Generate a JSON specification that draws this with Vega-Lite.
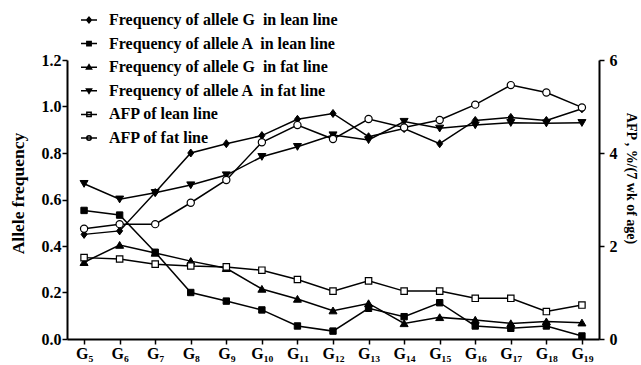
{
  "$schema": "https://vega.github.io/schema/vega-lite/v6.json",
  "width": 532,
  "height": 279,
  "autosize": {"type": "none"},
  "padding": {"left": 67, "top": 60, "right": 42, "bottom": 26},
  "background": "white",
  "config": {
    "view": {"stroke": null},
    "font": "Liberation Serif",
    "axis": {
      "grid": false,
      "domainColor": "black",
      "domainWidth": 2,
      "tickColor": "black",
      "tickWidth": 1.5,
      "tickSize": 5,
      "labelFont": "Liberation Serif",
      "labelFontWeight": "bold",
      "labelFontSize": 16,
      "labelColor": "black",
      "labelFlush": false,
      "titleFont": "Liberation Serif",
      "titleFontWeight": "bold",
      "titleColor": "black"
    },
    "legend": {
      "orient": "none",
      "legendX": 13,
      "legendY": -49,
      "padding": 0,
      "title": null,
      "labelFont": "Liberation Serif",
      "labelFontWeight": "bold",
      "labelFontSize": 16,
      "labelColor": "black",
      "labelLimit": 500,
      "symbolSize": 256,
      "symbolStrokeWidth": 1.5,
      "symbolStrokeColor": "black",
      "rowPadding": 6.6,
      "labelOffset": 11
    }
  },
  "datasets": {
    "main": [
      {"series": "Frequency of allele G  in lean line", "kind": "allele", "gen": 5, "value": 0.45},
      {"series": "Frequency of allele G  in lean line", "kind": "allele", "gen": 6, "value": 0.465},
      {"series": "Frequency of allele G  in lean line", "kind": "allele", "gen": 7, "value": 0.63},
      {"series": "Frequency of allele G  in lean line", "kind": "allele", "gen": 8, "value": 0.8},
      {"series": "Frequency of allele G  in lean line", "kind": "allele", "gen": 9, "value": 0.84},
      {"series": "Frequency of allele G  in lean line", "kind": "allele", "gen": 10, "value": 0.875},
      {"series": "Frequency of allele G  in lean line", "kind": "allele", "gen": 11, "value": 0.945},
      {"series": "Frequency of allele G  in lean line", "kind": "allele", "gen": 12, "value": 0.97},
      {"series": "Frequency of allele G  in lean line", "kind": "allele", "gen": 13, "value": 0.87},
      {"series": "Frequency of allele G  in lean line", "kind": "allele", "gen": 14, "value": 0.905},
      {"series": "Frequency of allele G  in lean line", "kind": "allele", "gen": 15, "value": 0.84},
      {"series": "Frequency of allele G  in lean line", "kind": "allele", "gen": 16, "value": 0.94},
      {"series": "Frequency of allele G  in lean line", "kind": "allele", "gen": 17, "value": 0.953},
      {"series": "Frequency of allele G  in lean line", "kind": "allele", "gen": 18, "value": 0.94},
      {"series": "Frequency of allele G  in lean line", "kind": "allele", "gen": 19, "value": 0.99},
      {"series": "Frequency of allele A  in lean line", "kind": "allele", "gen": 5, "value": 0.553},
      {"series": "Frequency of allele A  in lean line", "kind": "allele", "gen": 6, "value": 0.533},
      {"series": "Frequency of allele A  in lean line", "kind": "allele", "gen": 7, "value": 0.373},
      {"series": "Frequency of allele A  in lean line", "kind": "allele", "gen": 8, "value": 0.2},
      {"series": "Frequency of allele A  in lean line", "kind": "allele", "gen": 9, "value": 0.163},
      {"series": "Frequency of allele A  in lean line", "kind": "allele", "gen": 10, "value": 0.125},
      {"series": "Frequency of allele A  in lean line", "kind": "allele", "gen": 11, "value": 0.056},
      {"series": "Frequency of allele A  in lean line", "kind": "allele", "gen": 12, "value": 0.034},
      {"series": "Frequency of allele A  in lean line", "kind": "allele", "gen": 13, "value": 0.132},
      {"series": "Frequency of allele A  in lean line", "kind": "allele", "gen": 14, "value": 0.096},
      {"series": "Frequency of allele A  in lean line", "kind": "allele", "gen": 15, "value": 0.156},
      {"series": "Frequency of allele A  in lean line", "kind": "allele", "gen": 16, "value": 0.056},
      {"series": "Frequency of allele A  in lean line", "kind": "allele", "gen": 17, "value": 0.046},
      {"series": "Frequency of allele A  in lean line", "kind": "allele", "gen": 18, "value": 0.056},
      {"series": "Frequency of allele A  in lean line", "kind": "allele", "gen": 19, "value": 0.013},
      {"series": "Frequency of allele G  in fat line", "kind": "allele", "gen": 5, "value": 0.33},
      {"series": "Frequency of allele G  in fat line", "kind": "allele", "gen": 6, "value": 0.404},
      {"series": "Frequency of allele G  in fat line", "kind": "allele", "gen": 7, "value": 0.37},
      {"series": "Frequency of allele G  in fat line", "kind": "allele", "gen": 8, "value": 0.335},
      {"series": "Frequency of allele G  in fat line", "kind": "allele", "gen": 9, "value": 0.304},
      {"series": "Frequency of allele G  in fat line", "kind": "allele", "gen": 10, "value": 0.215},
      {"series": "Frequency of allele G  in fat line", "kind": "allele", "gen": 11, "value": 0.172},
      {"series": "Frequency of allele G  in fat line", "kind": "allele", "gen": 12, "value": 0.122},
      {"series": "Frequency of allele G  in fat line", "kind": "allele", "gen": 13, "value": 0.153},
      {"series": "Frequency of allele G  in fat line", "kind": "allele", "gen": 14, "value": 0.067},
      {"series": "Frequency of allele G  in fat line", "kind": "allele", "gen": 15, "value": 0.093},
      {"series": "Frequency of allele G  in fat line", "kind": "allele", "gen": 16, "value": 0.082},
      {"series": "Frequency of allele G  in fat line", "kind": "allele", "gen": 17, "value": 0.067},
      {"series": "Frequency of allele G  in fat line", "kind": "allele", "gen": 18, "value": 0.075},
      {"series": "Frequency of allele G  in fat line", "kind": "allele", "gen": 19, "value": 0.07},
      {"series": "Frequency of allele A  in fat line", "kind": "allele", "gen": 5, "value": 0.668},
      {"series": "Frequency of allele A  in fat line", "kind": "allele", "gen": 6, "value": 0.601},
      {"series": "Frequency of allele A  in fat line", "kind": "allele", "gen": 7, "value": 0.629},
      {"series": "Frequency of allele A  in fat line", "kind": "allele", "gen": 8, "value": 0.662},
      {"series": "Frequency of allele A  in fat line", "kind": "allele", "gen": 9, "value": 0.705},
      {"series": "Frequency of allele A  in fat line", "kind": "allele", "gen": 10, "value": 0.784},
      {"series": "Frequency of allele A  in fat line", "kind": "allele", "gen": 11, "value": 0.827},
      {"series": "Frequency of allele A  in fat line", "kind": "allele", "gen": 12, "value": 0.877},
      {"series": "Frequency of allele A  in fat line", "kind": "allele", "gen": 13, "value": 0.856},
      {"series": "Frequency of allele A  in fat line", "kind": "allele", "gen": 14, "value": 0.935},
      {"series": "Frequency of allele A  in fat line", "kind": "allele", "gen": 15, "value": 0.906},
      {"series": "Frequency of allele A  in fat line", "kind": "allele", "gen": 16, "value": 0.92},
      {"series": "Frequency of allele A  in fat line", "kind": "allele", "gen": 17, "value": 0.93},
      {"series": "Frequency of allele A  in fat line", "kind": "allele", "gen": 18, "value": 0.928},
      {"series": "Frequency of allele A  in fat line", "kind": "allele", "gen": 19, "value": 0.93},
      {"series": "AFP of lean line", "kind": "afp", "gen": 5, "value": 1.75},
      {"series": "AFP of lean line", "kind": "afp", "gen": 6, "value": 1.72},
      {"series": "AFP of lean line", "kind": "afp", "gen": 7, "value": 1.61},
      {"series": "AFP of lean line", "kind": "afp", "gen": 8, "value": 1.57},
      {"series": "AFP of lean line", "kind": "afp", "gen": 9, "value": 1.55},
      {"series": "AFP of lean line", "kind": "afp", "gen": 10, "value": 1.48},
      {"series": "AFP of lean line", "kind": "afp", "gen": 11, "value": 1.28},
      {"series": "AFP of lean line", "kind": "afp", "gen": 12, "value": 1.03},
      {"series": "AFP of lean line", "kind": "afp", "gen": 13, "value": 1.25},
      {"series": "AFP of lean line", "kind": "afp", "gen": 14, "value": 1.03},
      {"series": "AFP of lean line", "kind": "afp", "gen": 15, "value": 1.03},
      {"series": "AFP of lean line", "kind": "afp", "gen": 16, "value": 0.875},
      {"series": "AFP of lean line", "kind": "afp", "gen": 17, "value": 0.875},
      {"series": "AFP of lean line", "kind": "afp", "gen": 18, "value": 0.59},
      {"series": "AFP of lean line", "kind": "afp", "gen": 19, "value": 0.73},
      {"series": "AFP of fat line", "kind": "afp", "gen": 5, "value": 2.37},
      {"series": "AFP of fat line", "kind": "afp", "gen": 6, "value": 2.47},
      {"series": "AFP of fat line", "kind": "afp", "gen": 7, "value": 2.47},
      {"series": "AFP of fat line", "kind": "afp", "gen": 8, "value": 2.93},
      {"series": "AFP of fat line", "kind": "afp", "gen": 9, "value": 3.42},
      {"series": "AFP of fat line", "kind": "afp", "gen": 10, "value": 4.23},
      {"series": "AFP of fat line", "kind": "afp", "gen": 11, "value": 4.6},
      {"series": "AFP of fat line", "kind": "afp", "gen": 12, "value": 4.3},
      {"series": "AFP of fat line", "kind": "afp", "gen": 13, "value": 4.73},
      {"series": "AFP of fat line", "kind": "afp", "gen": 14, "value": 4.55},
      {"series": "AFP of fat line", "kind": "afp", "gen": 15, "value": 4.71},
      {"series": "AFP of fat line", "kind": "afp", "gen": 16, "value": 5.04},
      {"series": "AFP of fat line", "kind": "afp", "gen": 17, "value": 5.46},
      {"series": "AFP of fat line", "kind": "afp", "gen": 18, "value": 5.3},
      {"series": "AFP of fat line", "kind": "afp", "gen": 19, "value": 4.98}
    ],
    "legendrows": [
      {"series": "Frequency of allele G  in lean line", "gen": 5, "value": -1},
      {"series": "Frequency of allele A  in lean line", "gen": 5, "value": -1},
      {"series": "Frequency of allele G  in fat line", "gen": 5, "value": -1},
      {"series": "Frequency of allele A  in fat line", "gen": 5, "value": -1},
      {"series": "AFP of lean line", "gen": 5, "value": -1},
      {"series": "AFP of fat line", "gen": 5, "value": -1}
    ]
  },
  "encoding": {
    "x": {
      "field": "gen",
      "type": "quantitative",
      "scale": {"domain": [4.52, 19.48], "nice": false, "zero": false},
      "axis": {
        "title": null,
        "values": [5, 6, 7, 8, 9, 10, 11, 12, 13, 14, 15, 16, 17, 18, 19],
        "labelExpr": "'G' + (datum.value >= 10 ? '₁' : '') + ['₀','₁','₂','₃','₄','₅','₆','₇','₈','₉'][datum.value % 10]",
        "labelPadding": 1
      }
    }
  },
  "layer": [
    {
      "layer": [
        {
          "data": {"name": "main"},
          "transform": [{"filter": "datum.kind === 'allele'"}],
          "mark": {"type": "line", "color": "black", "strokeWidth": 1.5},
          "encoding": {
            "y": {
              "field": "value",
              "type": "quantitative",
              "scale": {"domain": [0, 1.2], "nice": false},
              "axis": {
                "title": "Allele frequency",
                "values": [0, 0.2, 0.4, 0.6, 0.8, 1.0, 1.2],
                "format": ".1f",
                "titleFontSize": 17.5,
                "titlePadding": 14,
                "labelPadding": 1,
                "titleY": 133
              }
            },
            "detail": {"field": "series"}
          }
        },
        {
          "data": {"name": "main"},
          "transform": [{"filter": "datum.kind === 'allele'"}],
          "mark": {"type": "point", "filled": true, "stroke": "black", "strokeWidth": 1, "size": 64, "opacity": 1},
          "encoding": {
            "y": {"field": "value", "type": "quantitative"},
            "shape": {
              "field": "series",
              "type": "nominal",
              "legend": null,
              "scale": {
                "domain": ["Frequency of allele G  in lean line", "Frequency of allele A  in lean line", "Frequency of allele G  in fat line", "Frequency of allele A  in fat line"],
                "range": ["M0,-1L0.75,0L0,1L-0.75,0Z", "M-0.8,-0.8H0.8V0.8H-0.8Z", "M0,-0.9L1,0.8H-1Z", "M0,0.9L1,-0.8H-1Z"]
              }
            },
            "fill": {"value": "black"}
          }
        },
        {
          "data": {"name": "legendrows"},
          "mark": {"type": "point", "filled": true, "strokeWidth": 1.5, "clip": true, "opacity": 1},
          "encoding": {
            "y": {"field": "value", "type": "quantitative"},
            "shape": {
              "field": "series",
              "type": "nominal",
              "legend": {"labelExpr": "replace(datum.label, '  ', ' \u00a0')"},
              "scale": {
                "domain": ["Frequency of allele G  in lean line", "Frequency of allele A  in lean line", "Frequency of allele G  in fat line", "Frequency of allele A  in fat line", "AFP of lean line", "AFP of fat line"],
                "range": [
                  "M-1,0H1M0,-0.36L0.29,0L0,0.36L-0.29,0Z",
                  "M-1,0H1M-0.27,-0.27H0.27V0.27H-0.27Z",
                  "M-1,0H1M0,-0.32L0.32,0.24H-0.32Z",
                  "M-1,0H1M0,0.32L0.32,-0.24H-0.32Z",
                  "M-1,0H1M-0.27,-0.27H0.27V0.27H-0.27Z",
                  "M-1,0H1M0.28,0A0.28,0.28,0,1,1,-0.28,0A0.28,0.28,0,1,1,0.28,0Z"
                ]
              }
            },
            "fill": {
              "field": "series",
              "type": "nominal",
              "legend": {"labelExpr": "replace(datum.label, '  ', ' \u00a0')"},
              "scale": {
                "domain": ["Frequency of allele G  in lean line", "Frequency of allele A  in lean line", "Frequency of allele G  in fat line", "Frequency of allele A  in fat line", "AFP of lean line", "AFP of fat line"],
                "range": ["black", "black", "black", "black", "white", "white"]
              }
            },
            "stroke": {
              "field": "series",
              "type": "nominal",
              "legend": {"labelExpr": "replace(datum.label, '  ', ' \u00a0')"},
              "scale": {
                "domain": ["Frequency of allele G  in lean line", "Frequency of allele A  in lean line", "Frequency of allele G  in fat line", "Frequency of allele A  in fat line", "AFP of lean line", "AFP of fat line"],
                "range": ["black", "black", "black", "black", "black", "black"]
              }
            }
          }
        }
      ],
      "resolve": {"scale": {"shape": "independent", "fill": "independent", "stroke": "independent"}}
    },
    {
      "data": {"name": "main"},
      "transform": [{"filter": "datum.kind === 'afp'"}],
      "layer": [
        {
          "mark": {"type": "line", "color": "black", "strokeWidth": 1.5},
          "encoding": {
            "y": {
              "field": "value",
              "type": "quantitative",
              "scale": {"domain": [0, 6], "nice": false},
              "axis": {
                "orient": "right",
                "title": "AFP , %/(7 wk of age)",
                "values": [0, 2, 4, 6],
                "titleAngle": 90,
                "titleFontSize": 14,
                "titlePadding": 6,
                "labelPadding": 5,
                "titleY": 118
              }
            },
            "detail": {"field": "series"}
          }
        },
        {
          "mark": {"type": "point", "filled": true, "fill": "white", "stroke": "black", "strokeWidth": 1.2, "size": 64, "opacity": 1},
          "encoding": {
            "y": {"field": "value", "type": "quantitative"},
            "shape": {
              "field": "series",
              "type": "nominal",
              "legend": null,
              "scale": {
                "domain": ["AFP of lean line", "AFP of fat line"],
                "range": ["M-0.8,-0.8H0.8V0.8H-0.8Z", "M0.9,0A0.9,0.9,0,1,1,-0.9,0A0.9,0.9,0,1,1,0.9,0Z"]
              }
            }
          }
        }
      ]
    }
  ],
  "resolve": {"scale": {"y": "independent", "shape": "independent", "fill": "independent", "stroke": "independent"}}
}
